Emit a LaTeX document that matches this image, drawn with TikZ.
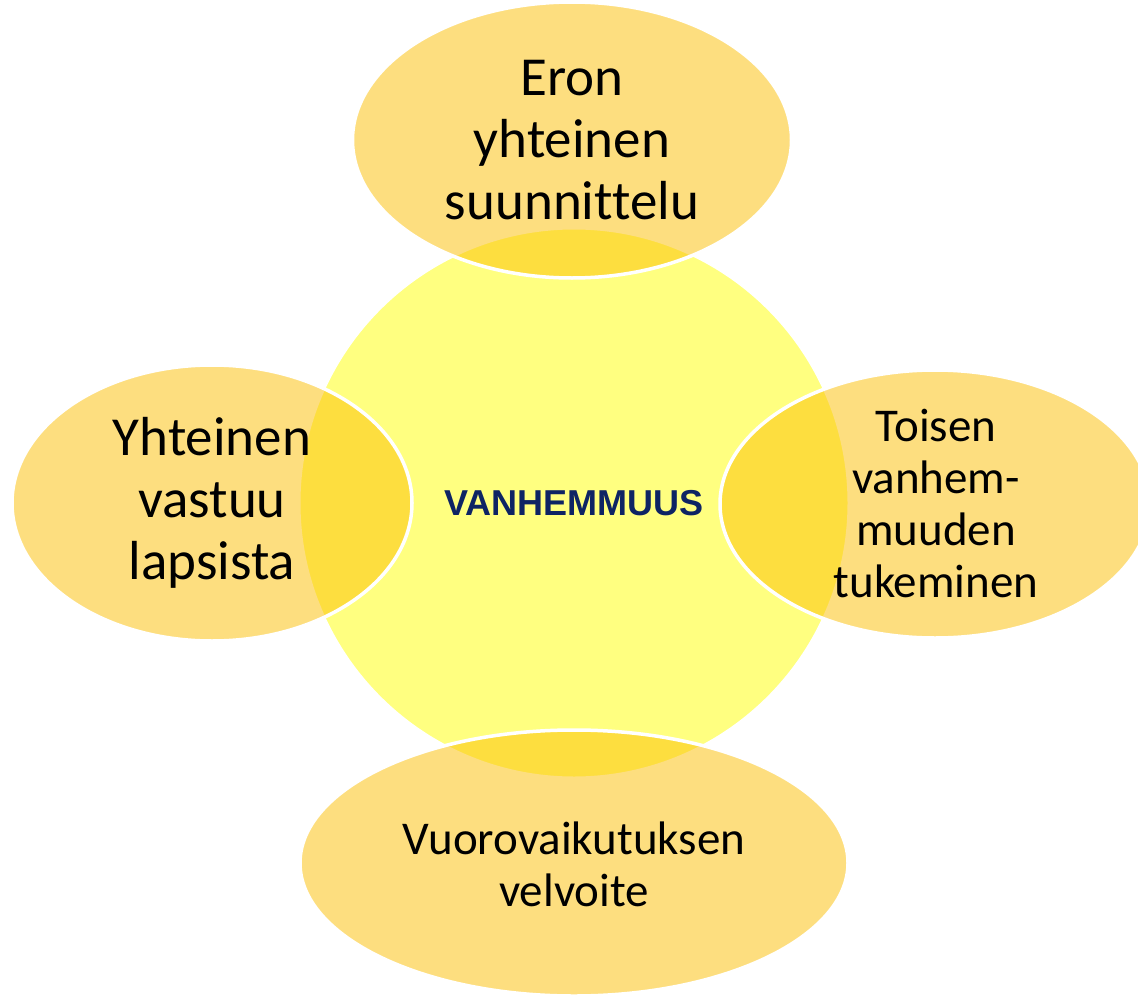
\documentclass[tikz,border=0pt]{standalone}
\usepackage{fontspec}
\setmainfont{Carlito}[Ligatures=NoCommon]
\newfontfamily\arialb{Liberation Sans}[BoldFont={Liberation Sans Bold}]
\usetikzlibrary{shapes.geometric}
\definecolor{ringfill}{RGB}{255,255,128}
\definecolor{petalfill}{RGB}{252,190,0}
\definecolor{navy}{RGB}{14,36,100}
\begin{document}
\begin{tikzpicture}[x=1pt,y=-1pt,
  petal/.style={ellipse, inner sep=0pt, fill=petalfill, fill opacity=0.5, draw=white, line width=3.5pt},
  bigtext/.style={align=center, text=black, font=\fontsize{55}{62}\selectfont, inner sep=0pt},
  smalltext/.style={align=center, text=black, font=\fontsize{47}{52}\selectfont, inner sep=0pt}]
\useasboundingbox (0,0) rectangle (1138,998);
\clip (0,0) rectangle (1138,998);
\node[circle, inner sep=0pt, minimum size=550pt, fill=ringfill, draw=white, line width=3pt] (hub) at (574,503) {};
\node[petal, minimum width=439pt, minimum height=276pt] (top) at (572,140) {};
\node[petal, minimum width=400pt, minimum height=276pt] (left) at (212,503) {};
\node[petal, minimum width=430pt, minimum height=268pt] (right) at (935,504) {};
\node[petal, minimum width=548pt, minimum height=266pt] (bottom) at (574,863) {};
\node[font=\arialb\bfseries\fontsize{36}{40}\selectfont, text=navy, inner sep=0pt] (hubtext) at (hub) {VANHEMMUUS};
\node[bigtext] (toptext) at (572,140) {Eron\\yhteinen\\suunnittelu};
\node[bigtext] (lefttext) at (212,503) {Yhteinen\\vastuu\\lapsista};
\node[smalltext] (righttext) at (936,503) {Toisen\\vanhem-\\muuden\\tukeminen};
\node[smalltext] (bottomtext) at (574,864) {Vuorovaikutuksen\\velvoite};
\end{tikzpicture}
\end{document}
